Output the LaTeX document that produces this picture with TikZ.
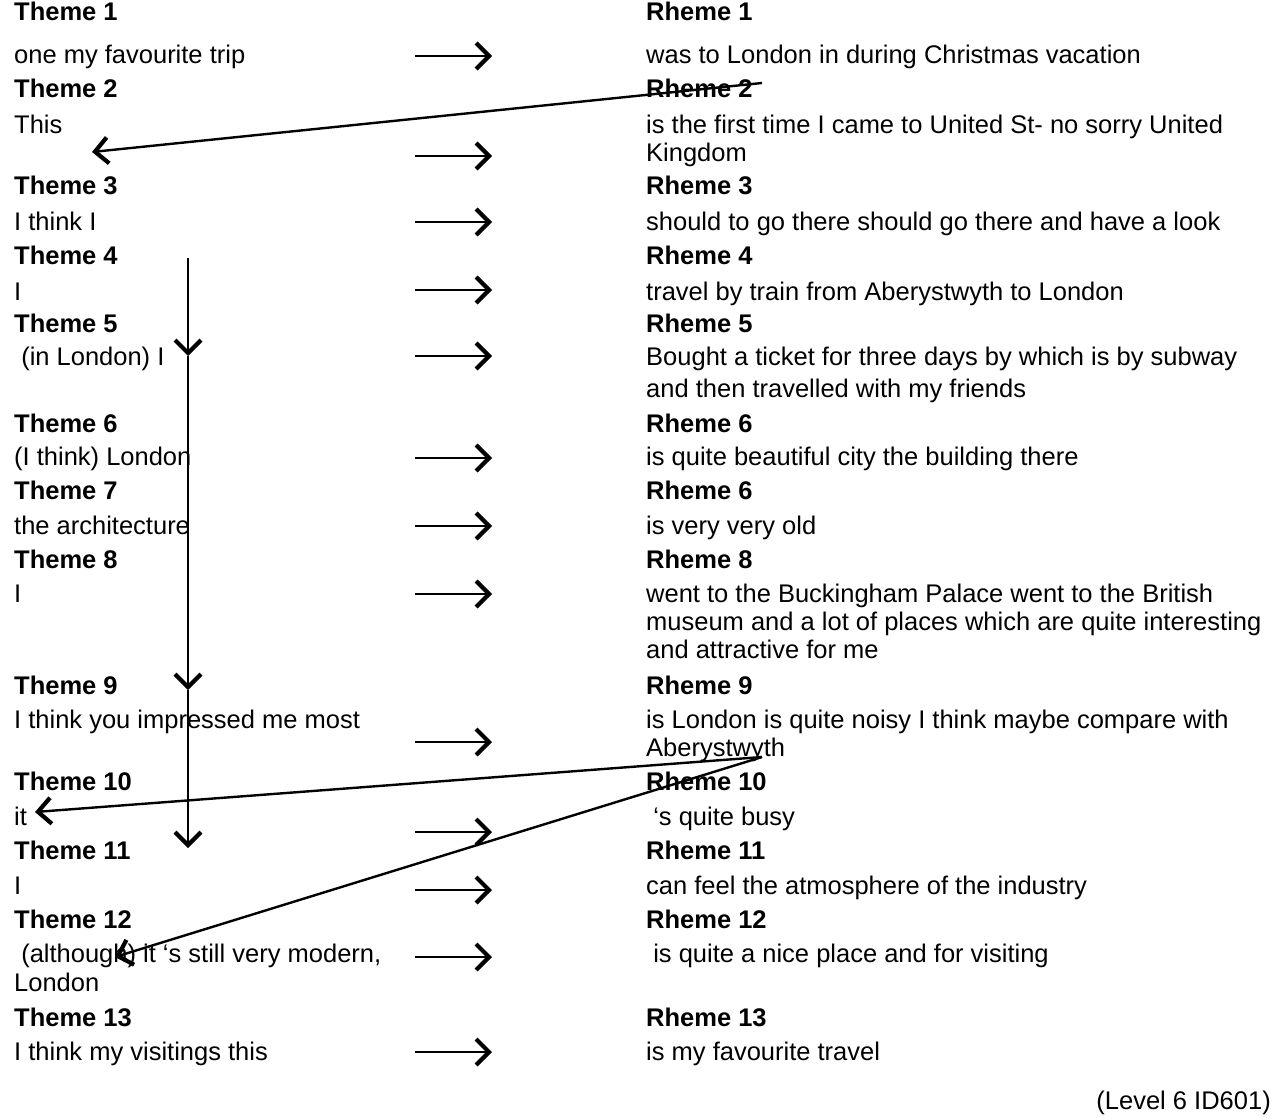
\documentclass[tikz,border=0pt]{standalone}
\usepackage{fontspec}
\setmainfont{Liberation Sans}
\usetikzlibrary{arrows.meta}

\begin{document}
\begin{tikzpicture}[
  x=1pt, y=-1pt,
  every node/.style={anchor=base west, inner sep=0pt, font=\fontsize{25.5}{29}\selectfont},
  head/.style={font=\fontsize{25.5}{29}\selectfont\bfseries},
  flow/.style={line width=2.8pt, -{Straight Barb[length=13pt,width=26pt,line width=4.2pt]}},
  link/.style={line width=2.4pt, -{Straight Barb[length=13pt,width=26pt,line width=4.2pt]}}
]
\useasboundingbox (0,0) rectangle (1279,1118);
% theme column
\node[head] (t1) at (14,21) {Theme 1};
\node (t1a) at (14,64) {one my favourite trip};
\node[head] (t2) at (14,98) {Theme 2};
\node (t2a) at (14,134) {This};
\node[head] (t3) at (14,195) {Theme 3};
\node (t3a) at (14,230) {I think I};
\node[head] (t4) at (14,264) {Theme 4};
\node (t4a) at (14,300) {I};
\node[head] (t5) at (14,332) {Theme 5};
\node (t5a) at (14,365) {\ (in London) I};
\node[head] (t6) at (14,432) {Theme 6};
\node (t6a) at (14,465) {(I think) London};
\node[head] (t7) at (14,499) {Theme 7};
\node (t7a) at (14,534) {the architecture};
\node[head] (t8) at (14,568) {Theme 8};
\node (t8a) at (14,602) {I};
\node[head] (t9) at (14,694) {Theme 9};
\node (t9a) at (14,728) {I think you impressed me most};
\node[head] (t10) at (14,790) {Theme 10};
\node (t10a) at (14,825) {it};
\node[head] (t11) at (14,859) {Theme 11};
\node (t11a) at (14,894) {I};
\node[head] (t12) at (14,928) {Theme 12};
\node (t12a) at (14,962) {\ (although) it `s still very modern,};
\node (t12b) at (14,991) {London};
\node[head] (t13) at (14,1026) {Theme 13};
\node (t13a) at (14,1060) {I think my visitings this};
% rheme column
\node[head] (r1) at (646,21) {Rheme 1};
\node (r1a) at (646,64) {was to London in during Christmas vacation};
\node[head] (r2) at (646,98) {Rheme 2};
\node (r2a) at (646,134) {is the first time I came to United St- no sorry United};
\node (r2b) at (646,162) {Kingdom};
\node[head] (r3) at (646,195) {Rheme 3};
\node (r3a) at (646,230) {should to go there should go there and have a look};
\node[head] (r4) at (646,264) {Rheme 4};
\node (r4a) at (646,300) {travel by train from Aberystwyth to London};
\node[head] (r5) at (646,332) {Rheme 5};
\node (r5a) at (646,365) {Bought a ticket for three days by which is by subway};
\node (r5b) at (646,397) {and then travelled with my friends};
\node[head] (r6) at (646,432) {Rheme 6};
\node (r6a) at (646,465) {is quite beautiful city the building there};
\node[head] (r7) at (646,499) {Rheme 6};
\node (r7a) at (646,534) {is very very old};
\node[head] (r8) at (646,568) {Rheme 8};
\node (r8a) at (646,602) {went to the Buckingham Palace went to the British};
\node (r8b) at (646,630) {museum and a lot of places which are quite interesting};
\node (r8c) at (646,658) {and attractive for me};
\node[head] (r9) at (646,694) {Rheme 9};
\node (r9a) at (646,728) {is London is quite noisy I think maybe compare with};
\node (r9b) at (646,756) {Aberystwyth};
\node[head] (r10) at (646,790) {Rheme 10};
\node (r10a) at (646,825) {\ `s quite busy};
\node[head] (r11) at (646,859) {Rheme 11};
\node (r11a) at (646,894) {can feel the atmosphere of the industry};
\node[head] (r12) at (646,928) {Rheme 12};
\node (r12a) at (646,962) {\ is quite a nice place and for visiting};
\node[head] (r13) at (646,1026) {Rheme 13};
\node (r13a) at (646,1060) {is my favourite travel};
\node[anchor=base east] (lvl) at (1271,1109) {(Level 6 ID601)};
% theme to rheme arrows
\foreach \y [count=\i] in {56,156,222,290,356,458,526,594,742,832,890,957,1052} {
  \coordinate (s\i) at (415,\y);
  \coordinate (e\i) at (492,\y);
  \draw[flow] (s\i) -- (e\i);
}
% links back from rhemes
\coordinate (b2) at (762,83);
\coordinate (h2) at (92,152);
\draw[link] (b2) -- (h2);
\coordinate (b9) at (762,757);
\coordinate (h10) at (35,812);
\coordinate (h12) at (115,957);
\draw[link] (b9) -- (h10);
\draw[link] (b9) -- (h12);
% constant theme line
\coordinate (v0) at (188,258);
\coordinate (v1) at (188,356);
\coordinate (v2) at (188,690);
\coordinate (v3) at (188,848);
\draw[link] (v0) -- (v1);
\draw[link] (v1) -- (v2);
\draw[link] (v2) -- (v3);
\end{tikzpicture}
\end{document}
